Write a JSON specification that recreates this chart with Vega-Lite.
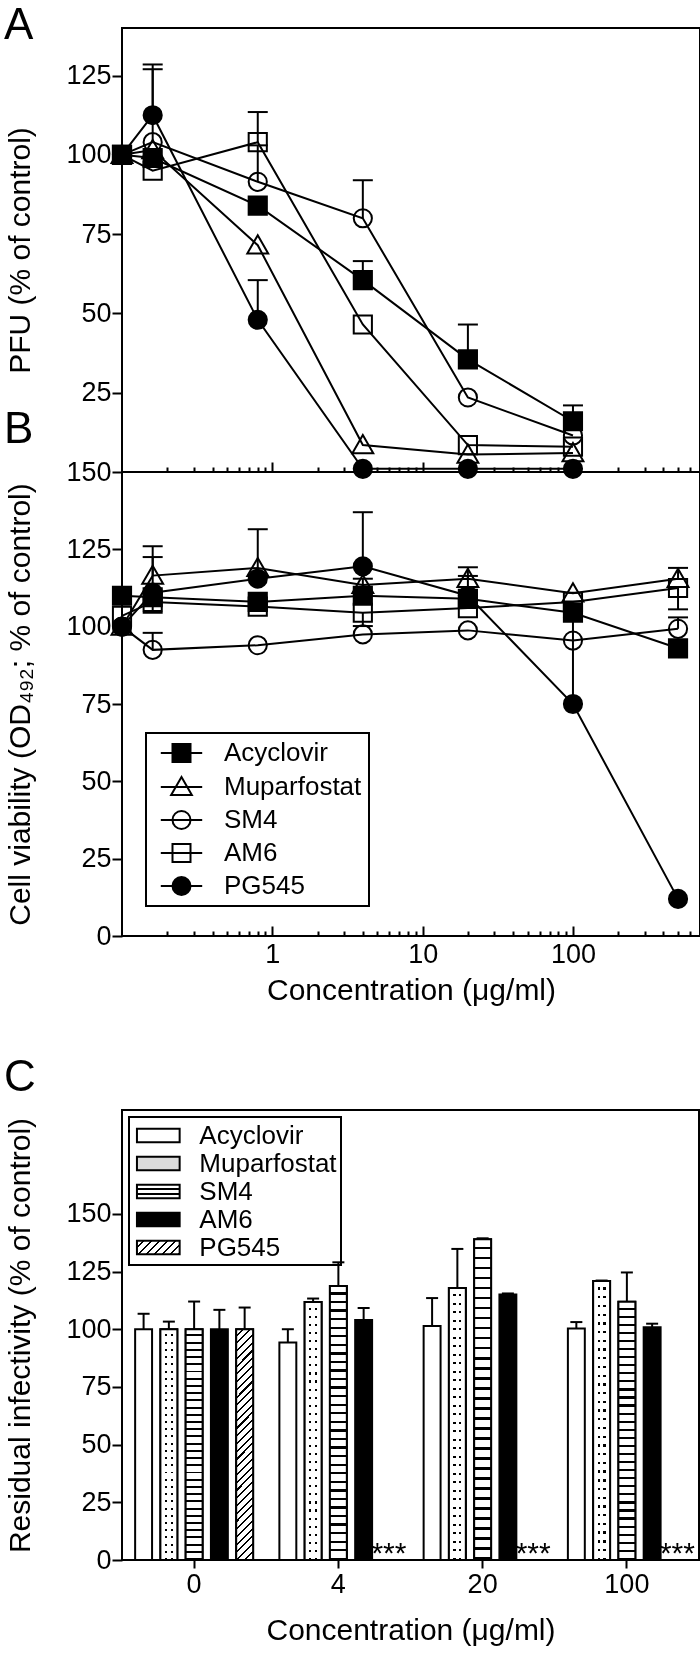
{
  "$schema": "https://vega.github.io/schema/vega-lite/v6.json",
  "background": "white",
  "padding": {"left": 3, "top": 3, "right": 0, "bottom": 5},
  "bounds": "flush",
  "spacing": 0,
  "config": {
    "font": "Liberation Sans",
    "view": {"stroke": "black", "strokeWidth": 2},
    "axis": {"labelFont": "Liberation Sans", "labelFontSize": 27, "labelColor": "black", "titleFont": "Liberation Sans", "titleFontSize": 30, "titleFontWeight": "normal", "titleColor": "black", "tickColor": "black", "tickWidth": 2, "domain": false, "grid": false, "labelOverlap": false, "labelFlush": false},
    "legend": {"labelFont": "Liberation Sans", "labelFontSize": 26, "labelColor": "black", "strokeColor": "black", "strokeWidth": 2, "labelLimit": 0},
    "title": {"font": "Liberation Sans", "fontSize": 44, "fontWeight": "normal", "color": "black", "anchor": "start", "frame": "group"}
  },
  "resolve": {"scale": {"fill": "independent", "shape": "independent", "stroke": "independent"}},
  "datasets": {
    "pfu": [
      {"drug":"Acyclovir","conc":0.1,"pfu":100,"err":null},
      {"drug":"Acyclovir","conc":0.16,"pfu":99,"err":null},
      {"drug":"Acyclovir","conc":0.8,"pfu":84,"err":null},
      {"drug":"Acyclovir","conc":4,"pfu":60.5,"err":66.5},
      {"drug":"Acyclovir","conc":20,"pfu":35.5,"err":46.5},
      {"drug":"Acyclovir","conc":100,"pfu":16,"err":21},
      {"drug":"Muparfostat","conc":0.1,"pfu":100,"err":null},
      {"drug":"Muparfostat","conc":0.16,"pfu":101.5,"err":null},
      {"drug":"Muparfostat","conc":0.8,"pfu":71.5,"err":null},
      {"drug":"Muparfostat","conc":4,"pfu":8.5,"err":null},
      {"drug":"Muparfostat","conc":20,"pfu":5.5,"err":null},
      {"drug":"Muparfostat","conc":100,"pfu":6,"err":null},
      {"drug":"SM4","conc":0.1,"pfu":100,"err":null},
      {"drug":"SM4","conc":0.16,"pfu":104,"err":127},
      {"drug":"SM4","conc":0.8,"pfu":91.5,"err":103},
      {"drug":"SM4","conc":4,"pfu":80,"err":92},
      {"drug":"SM4","conc":20,"pfu":23.5,"err":null},
      {"drug":"SM4","conc":100,"pfu":11.5,"err":null},
      {"drug":"AM6","conc":0.1,"pfu":100,"err":null},
      {"drug":"AM6","conc":0.16,"pfu":95,"err":null},
      {"drug":"AM6","conc":0.8,"pfu":104,"err":113.5},
      {"drug":"AM6","conc":4,"pfu":46.5,"err":null},
      {"drug":"AM6","conc":20,"pfu":8.5,"err":null},
      {"drug":"AM6","conc":100,"pfu":8,"err":null},
      {"drug":"PG545","conc":0.1,"pfu":100,"err":null},
      {"drug":"PG545","conc":0.16,"pfu":112.5,"err":128.5},
      {"drug":"PG545","conc":0.8,"pfu":48,"err":60.5},
      {"drug":"PG545","conc":4,"pfu":1,"err":null},
      {"drug":"PG545","conc":20,"pfu":1,"err":null},
      {"drug":"PG545","conc":100,"pfu":1,"err":null}
    ],
    "viab": [
      {"drug":"Acyclovir","conc":0.1,"via":110,"err":null},
      {"drug":"Acyclovir","conc":0.16,"via":109.5,"err":null},
      {"drug":"Acyclovir","conc":0.8,"via":108,"err":null},
      {"drug":"Acyclovir","conc":4,"via":110,"err":115.5},
      {"drug":"Acyclovir","conc":20,"via":109,"err":116.4},
      {"drug":"Acyclovir","conc":100,"via":104.5,"err":null},
      {"drug":"Acyclovir","conc":500,"via":93,"err":null},
      {"drug":"Muparfostat","conc":0.1,"via":100,"err":null},
      {"drug":"Muparfostat","conc":0.16,"via":116.5,"err":126},
      {"drug":"Muparfostat","conc":0.8,"via":119,"err":null},
      {"drug":"Muparfostat","conc":4,"via":113.5,"err":null},
      {"drug":"Muparfostat","conc":20,"via":115.5,"err":119.2},
      {"drug":"Muparfostat","conc":100,"via":110.8,"err":null},
      {"drug":"Muparfostat","conc":500,"via":115.5,"err":119},
      {"drug":"SM4","conc":0.1,"via":100,"err":null},
      {"drug":"SM4","conc":0.16,"via":92.5,"err":98},
      {"drug":"SM4","conc":0.8,"via":94,"err":null},
      {"drug":"SM4","conc":4,"via":97.5,"err":null},
      {"drug":"SM4","conc":20,"via":98.8,"err":null},
      {"drug":"SM4","conc":100,"via":95.5,"err":null},
      {"drug":"SM4","conc":500,"via":99.3,"err":103},
      {"drug":"AM6","conc":0.1,"via":103.5,"err":null},
      {"drug":"AM6","conc":0.16,"via":108,"err":104.5},
      {"drug":"AM6","conc":0.8,"via":106.5,"err":null},
      {"drug":"AM6","conc":4,"via":104.5,"err":100.2},
      {"drug":"AM6","conc":20,"via":106,"err":null},
      {"drug":"AM6","conc":100,"via":108,"err":null},
      {"drug":"AM6","conc":500,"via":112.5,"err":105.6},
      {"drug":"PG545","conc":0.1,"via":100,"err":null},
      {"drug":"PG545","conc":0.16,"via":111,"err":122.5},
      {"drug":"PG545","conc":0.8,"via":115.5,"err":131.5},
      {"drug":"PG545","conc":4,"via":119.5,"err":137},
      {"drug":"PG545","conc":20,"via":110,"err":null},
      {"drug":"PG545","conc":100,"via":75,"err":103},
      {"drug":"PG545","conc":500,"via":12,"err":null}
    ],
    "resid": [
      {"conc":"0","drug":"Acyclovir","value":100,"err":106.7,"sig":null},
      {"conc":"0","drug":"Muparfostat","value":100,"err":103.3,"sig":null},
      {"conc":"0","drug":"SM4","value":100,"err":112,"sig":null},
      {"conc":"0","drug":"AM6","value":100,"err":108.4,"sig":null},
      {"conc":"0","drug":"PG545","value":100,"err":109.4,"sig":null},
      {"conc":"4","drug":"Acyclovir","value":94.3,"err":100,"sig":null},
      {"conc":"4","drug":"Muparfostat","value":111.8,"err":113.3,"sig":null},
      {"conc":"4","drug":"SM4","value":118.7,"err":129,"sig":null},
      {"conc":"4","drug":"AM6","value":104,"err":109.2,"sig":null},
      {"conc":"4","drug":"PG545","value":0,"err":null,"sig":"***"},
      {"conc":"20","drug":"Acyclovir","value":101.4,"err":113.5,"sig":null},
      {"conc":"20","drug":"Muparfostat","value":117.9,"err":134.8,"sig":null},
      {"conc":"20","drug":"SM4","value":139,"err":139.4,"sig":null},
      {"conc":"20","drug":"AM6","value":115.1,"err":115.5,"sig":null},
      {"conc":"20","drug":"PG545","value":0,"err":null,"sig":"***"},
      {"conc":"100","drug":"Acyclovir","value":100.3,"err":103.1,"sig":null},
      {"conc":"100","drug":"Muparfostat","value":120.9,"err":121.1,"sig":null},
      {"conc":"100","drug":"SM4","value":111.9,"err":124.6,"sig":null},
      {"conc":"100","drug":"AM6","value":100.9,"err":102.4,"sig":null},
      {"conc":"100","drug":"PG545","value":0,"err":null,"sig":"***"}
    ]
  },
  "vconcat": [
    {
      "width": 578,
      "height": 444,
      "title": {"text": "A", "dx": -118, "dy": 24},
      "data": {"name": "pfu"},
      "resolve": {"axis": {"x": "independent"}},
      "layer": [
        {
          "mark": {"type": "line", "stroke": "black", "strokeWidth": 2},
          "encoding": {
            "x": {"field": "conc", "type": "quantitative", "scale": {"type": "log", "domain": [0.1, 700], "nice": false}, "axis": {"orient": "bottom", "values": [1, 10, 100], "tickSize": -10, "labels": false, "title": null}},
            "y": {"field": "pfu", "type": "quantitative", "scale": {"domain": [0, 140], "nice": false}, "axis": {"values": [25, 50, 75, 100, 125], "tickSize": 10, "labelPadding": 1, "title": "PFU (% of control)", "titlePadding": 30}},
            "detail": {"field": "drug"}
          }
        },
        {
          "transform": [{"filter": "isValid(datum.err)"}],
          "mark": {"type": "rule", "stroke": "black", "strokeWidth": 2},
          "encoding": {
            "x": {"field": "conc", "type": "quantitative", "axis": {"orient": "bottom", "values": [0.2,0.3,0.4,0.5,0.6,0.7,0.8,0.9,2,3,4,5,6,7,8,9,20,30,40,50,60,70,80,90,200,300,400,500,600,700], "tickSize": -5, "labels": false, "title": null}},
            "y": {"field": "pfu", "type": "quantitative", "title": "PFU (% of control)"},
            "y2": {"field": "err"}
          }
        },
        {
          "transform": [{"filter": "isValid(datum.err)"}],
          "mark": {"type": "point", "shape": "M-1,0H1", "size": 400, "filled": false, "stroke": "black", "strokeWidth": 2, "opacity": 1},
          "encoding": {
            "x": {"field": "conc", "type": "quantitative", "axis": null},
            "y": {"field": "err", "type": "quantitative", "title": "PFU (% of control)"}
          }
        },
        {
          "mark": {"type": "point", "size": 330, "filled": true, "stroke": "black", "strokeWidth": 2, "opacity": 1},
          "encoding": {
            "x": {"field": "conc", "type": "quantitative", "axis": null},
            "y": {"field": "pfu", "type": "quantitative", "title": "PFU (% of control)"},
            "shape": {"field": "drug", "type": "nominal", "scale": {"domain": ["Acyclovir","Muparfostat","SM4","AM6","PG545"], "range": ["M-1,-1H1V1H-1Z", "M0,-1.1L1.15,0.9H-1.15Z", "M1,0A1,1,0,1,1,-1,0A1,1,0,1,1,1,0Z", "M-1,-1H1V1H-1Z", "M1,0A1,1,0,1,1,-1,0A1,1,0,1,1,1,0Z"]}, "legend": null},
            "fill": {"field": "drug", "type": "nominal", "scale": {"domain": ["Acyclovir","Muparfostat","SM4","AM6","PG545"], "range": ["black", "transparent", "transparent", "transparent", "black"]}, "legend": null}
          }
        }
      ]
    },
    {
      "width": 578,
      "height": 464,
      "title": {"text": "B", "dx": -118, "dy": -2},
      "data": {"name": "viab"},
      "resolve": {"axis": {"x": "independent"}, "scale": {"shape": "independent", "fill": "independent", "stroke": "independent"}},
      "layer": [
        {
          "mark": {"type": "line", "stroke": "black", "strokeWidth": 2},
          "encoding": {
            "x": {"field": "conc", "type": "quantitative", "scale": {"type": "log", "domain": [0.1, 700], "nice": false}, "axis": {"orient": "bottom", "values": [1, 10, 100], "format": "d", "tickSize": -10, "labelPadding": 15, "title": "Concentration (μg/ml)", "titlePadding": 8}},
            "y": {"field": "via", "type": "quantitative", "scale": {"domain": [0, 150], "nice": false}, "axis": {"values": [0, 25, 50, 75, 100, 125, 150], "tickSize": 10, "labelPadding": 1, "title": "Cell viability (OD₄₉₂; % of control)", "titlePadding": 30}},
            "detail": {"field": "drug"}
          }
        },
        {
          "transform": [{"filter": "isValid(datum.err)"}],
          "mark": {"type": "rule", "stroke": "black", "strokeWidth": 2},
          "encoding": {
            "x": {"field": "conc", "type": "quantitative", "axis": {"orient": "bottom", "values": [0.2,0.3,0.4,0.5,0.6,0.7,0.8,0.9,2,3,4,5,6,7,8,9,20,30,40,50,60,70,80,90,200,300,400,500,600,700], "tickSize": -5, "labels": false, "title": null}},
            "y": {"field": "via", "type": "quantitative", "title": "Cell viability (OD₄₉₂; % of control)"},
            "y2": {"field": "err"}
          }
        },
        {
          "transform": [{"filter": "isValid(datum.err)"}],
          "mark": {"type": "point", "shape": "M-1,0H1", "size": 400, "filled": false, "stroke": "black", "strokeWidth": 2, "opacity": 1},
          "encoding": {
            "x": {"field": "conc", "type": "quantitative", "axis": null},
            "y": {"field": "err", "type": "quantitative", "title": "Cell viability (OD₄₉₂; % of control)"}
          }
        },
        {
          "mark": {"type": "point", "size": 330, "filled": true, "stroke": "black", "strokeWidth": 2, "opacity": 1},
          "encoding": {
            "x": {"field": "conc", "type": "quantitative", "axis": null},
            "y": {"field": "via", "type": "quantitative", "title": "Cell viability (OD₄₉₂; % of control)"},
            "shape": {"field": "drug", "type": "nominal", "scale": {"domain": ["Acyclovir","Muparfostat","SM4","AM6","PG545"], "range": ["M-1,-1H1V1H-1Z", "M0,-1.1L1.15,0.9H-1.15Z", "M1,0A1,1,0,1,1,-1,0A1,1,0,1,1,1,0Z", "M-1,-1H1V1H-1Z", "M1,0A1,1,0,1,1,-1,0A1,1,0,1,1,1,0Z"]}, "legend": null},
            "fill": {"field": "drug", "type": "nominal", "scale": {"domain": ["Acyclovir","Muparfostat","SM4","AM6","PG545"], "range": ["black", "transparent", "transparent", "transparent", "black"]}, "legend": null}
          }
        },
        {
          "transform": [{"filter": "false"}],
          "mark": {"type": "point", "size": 324, "filled": true, "strokeWidth": 2, "opacity": 1},
          "encoding": {
            "shape": {"field": "drug", "type": "nominal", "scale": {"domain": ["Acyclovir","Muparfostat","SM4","AM6","PG545"], "range": ["M-1,-1H1V1H-1Z M-2.3,0H2.3", "M0,-1.1L1.15,0.9H-1.15Z M-2.3,0H2.3", "M1,0A1,1,0,1,1,-1,0A1,1,0,1,1,1,0Z M-2.3,0H2.3", "M-1,-1H1V1H-1Z M-2.3,0H2.3", "M1,0A1,1,0,1,1,-1,0A1,1,0,1,1,1,0Z M-2.3,0H2.3"]},
              "legend": {"title": null, "orient": "none", "legendX": 24, "legendY": 261, "padding": 7, "symbolSize": 324, "symbolStrokeWidth": 2, "symbolOffset": 15.5, "labelOffset": 29.5, "rowPadding": 7, "labelFontSize": 26, "strokeColor": "black"}},
            "fill": {"field": "drug", "type": "nominal", "scale": {"domain": ["Acyclovir","Muparfostat","SM4","AM6","PG545"], "range": ["black", "transparent", "transparent", "transparent", "black"]},
              "legend": {"title": null, "orient": "none", "legendX": 24, "legendY": 261, "padding": 7, "symbolSize": 324, "symbolStrokeWidth": 2, "symbolOffset": 15.5, "labelOffset": 29.5, "rowPadding": 7, "labelFontSize": 26, "strokeColor": "black"}},
            "stroke": {"field": "drug", "type": "nominal", "scale": {"domain": ["Acyclovir","Muparfostat","SM4","AM6","PG545"], "range": ["black", "black", "black", "black", "black"]},
              "legend": {"title": null, "orient": "none", "legendX": 24, "legendY": 261, "padding": 7, "symbolSize": 324, "symbolStrokeWidth": 2, "symbolOffset": 15.5, "labelOffset": 29.5, "rowPadding": 7, "labelFontSize": 26, "strokeColor": "black"}}
          }
        }
      ]
    },
    {
      "width": 578,
      "height": 174,
      "view": {"stroke": null},
      "data": {"values": [{"a": 1}]},
      "mark": {"type": "text", "text": ""}
    },
    {
      "width": 577,
      "height": 450,
      "title": {"text": "C", "dx": -118, "dy": -6},
      "data": {"name": "resid"},
      "resolve": {"scale": {"fill": "independent"}},
      "layer": [
        {
          "mark": {"type": "bar", "stroke": "black", "strokeWidth": 2},
          "encoding": {
            "x": {"field": "conc", "type": "nominal", "sort": ["0", "4", "20", "100"], "scale": {"paddingInner": 0, "paddingOuter": 0}, "axis": {"labelAngle": 0, "tickSize": 8, "bandPosition": 0.5, "labelPadding": 3, "title": "Concentration (μg/ml)", "titlePadding": 18}},
            "xOffset": {"field": "drug", "type": "nominal", "sort": ["Acyclovir","Muparfostat","SM4","AM6","PG545"], "scale": {"paddingInner": 0.33, "paddingOuter": 0.52}},
            "y": {"field": "value", "type": "quantitative", "scale": {"domain": [0, 195], "nice": false}, "axis": {"values": [0, 25, 50, 75, 100, 125, 150], "tickSize": 10, "labelPadding": 1, "title": "Residual infectivity (% of control)", "titlePadding": 30}},
            "fill": {"field": "drug", "type": "nominal", "legend": null, "scale": {"domain": ["Acyclovir","Muparfostat","SM4","AM6","PG545"], "range": ["white", "white", "white", "black", "white"]}}
          }
        },
        {
          "transform": [{"filter": "datum.drug === 'SM4'"}],
          "mark": {"type": "bar", "stroke": "black", "strokeWidth": 2, "fill": {"gradient": "linear", "x1": 0.5, "y1": 0, "x2": 0.5, "y2": 1, "stops": [
                {"offset":0,"color":"white"},{"offset":0.0228,"color":"white"},{"offset":0.0228,"color":"black"},{"offset":0.03125,"color":"black"},
                {"offset":0.03125,"color":"white"},{"offset":0.0541,"color":"white"},{"offset":0.0541,"color":"black"},{"offset":0.0625,"color":"black"},
                {"offset":0.0625,"color":"white"},{"offset":0.0853,"color":"white"},{"offset":0.0853,"color":"black"},{"offset":0.09375,"color":"black"},
                {"offset":0.09375,"color":"white"},{"offset":0.1166,"color":"white"},{"offset":0.1166,"color":"black"},{"offset":0.125,"color":"black"},
                {"offset":0.125,"color":"white"},{"offset":0.1478,"color":"white"},{"offset":0.1478,"color":"black"},{"offset":0.15625,"color":"black"},
                {"offset":0.15625,"color":"white"},{"offset":0.1791,"color":"white"},{"offset":0.1791,"color":"black"},{"offset":0.1875,"color":"black"},
                {"offset":0.1875,"color":"white"},{"offset":0.2103,"color":"white"},{"offset":0.2103,"color":"black"},{"offset":0.21875,"color":"black"},
                {"offset":0.21875,"color":"white"},{"offset":0.2416,"color":"white"},{"offset":0.2416,"color":"black"},{"offset":0.25,"color":"black"},
                {"offset":0.25,"color":"white"},{"offset":0.2728,"color":"white"},{"offset":0.2728,"color":"black"},{"offset":0.28125,"color":"black"},
                {"offset":0.28125,"color":"white"},{"offset":0.3041,"color":"white"},{"offset":0.3041,"color":"black"},{"offset":0.3125,"color":"black"},
                {"offset":0.3125,"color":"white"},{"offset":0.3353,"color":"white"},{"offset":0.3353,"color":"black"},{"offset":0.34375,"color":"black"},
                {"offset":0.34375,"color":"white"},{"offset":0.3666,"color":"white"},{"offset":0.3666,"color":"black"},{"offset":0.375,"color":"black"},
                {"offset":0.375,"color":"white"},{"offset":0.3978,"color":"white"},{"offset":0.3978,"color":"black"},{"offset":0.40625,"color":"black"},
                {"offset":0.40625,"color":"white"},{"offset":0.4291,"color":"white"},{"offset":0.4291,"color":"black"},{"offset":0.4375,"color":"black"},
                {"offset":0.4375,"color":"white"},{"offset":0.4603,"color":"white"},{"offset":0.4603,"color":"black"},{"offset":0.46875,"color":"black"},
                {"offset":0.46875,"color":"white"},{"offset":0.4916,"color":"white"},{"offset":0.4916,"color":"black"},{"offset":0.5,"color":"black"},
                {"offset":0.5,"color":"white"},{"offset":0.5228,"color":"white"},{"offset":0.5228,"color":"black"},{"offset":0.53125,"color":"black"},
                {"offset":0.53125,"color":"white"},{"offset":0.5541,"color":"white"},{"offset":0.5541,"color":"black"},{"offset":0.5625,"color":"black"},
                {"offset":0.5625,"color":"white"},{"offset":0.5853,"color":"white"},{"offset":0.5853,"color":"black"},{"offset":0.59375,"color":"black"},
                {"offset":0.59375,"color":"white"},{"offset":0.6166,"color":"white"},{"offset":0.6166,"color":"black"},{"offset":0.625,"color":"black"},
                {"offset":0.625,"color":"white"},{"offset":0.6478,"color":"white"},{"offset":0.6478,"color":"black"},{"offset":0.65625,"color":"black"},
                {"offset":0.65625,"color":"white"},{"offset":0.6791,"color":"white"},{"offset":0.6791,"color":"black"},{"offset":0.6875,"color":"black"},
                {"offset":0.6875,"color":"white"},{"offset":0.7103,"color":"white"},{"offset":0.7103,"color":"black"},{"offset":0.71875,"color":"black"},
                {"offset":0.71875,"color":"white"},{"offset":0.7416,"color":"white"},{"offset":0.7416,"color":"black"},{"offset":0.75,"color":"black"},
                {"offset":0.75,"color":"white"},{"offset":0.7728,"color":"white"},{"offset":0.7728,"color":"black"},{"offset":0.78125,"color":"black"},
                {"offset":0.78125,"color":"white"},{"offset":0.8041,"color":"white"},{"offset":0.8041,"color":"black"},{"offset":0.8125,"color":"black"},
                {"offset":0.8125,"color":"white"},{"offset":0.8353,"color":"white"},{"offset":0.8353,"color":"black"},{"offset":0.84375,"color":"black"},
                {"offset":0.84375,"color":"white"},{"offset":0.8666,"color":"white"},{"offset":0.8666,"color":"black"},{"offset":0.875,"color":"black"},
                {"offset":0.875,"color":"white"},{"offset":0.8978,"color":"white"},{"offset":0.8978,"color":"black"},{"offset":0.90625,"color":"black"},
                {"offset":0.90625,"color":"white"},{"offset":0.9291,"color":"white"},{"offset":0.9291,"color":"black"},{"offset":0.9375,"color":"black"},
                {"offset":0.9375,"color":"white"},{"offset":0.9603,"color":"white"},{"offset":0.9603,"color":"black"},{"offset":0.96875,"color":"black"},
                {"offset":0.96875,"color":"white"},{"offset":0.9916,"color":"white"},{"offset":0.9916,"color":"black"},{"offset":1,"color":"black"}
              ]}},
          "encoding": {
            "x": {"field": "conc", "type": "nominal", "sort": ["0", "4", "20", "100"]},
            "xOffset": {"field": "drug", "type": "nominal", "sort": ["Acyclovir","Muparfostat","SM4","AM6","PG545"]},
            "y": {"field": "value", "type": "quantitative", "title": "Residual infectivity (% of control)"}
          }
        },
        {
          "transform": [{"filter": "datum.drug === 'PG545' && datum.value > 0"}],
          "mark": {"type": "bar", "stroke": "black", "strokeWidth": 2, "fill": {"gradient": "linear", "x1": 0, "y1": 0, "x2": 0.0789, "y2": 1.068, "stops": [
                {"offset":0,"color":"white"},{"offset":0.0228,"color":"white"},{"offset":0.0228,"color":"black"},{"offset":0.03125,"color":"black"},
                {"offset":0.03125,"color":"white"},{"offset":0.0541,"color":"white"},{"offset":0.0541,"color":"black"},{"offset":0.0625,"color":"black"},
                {"offset":0.0625,"color":"white"},{"offset":0.0853,"color":"white"},{"offset":0.0853,"color":"black"},{"offset":0.09375,"color":"black"},
                {"offset":0.09375,"color":"white"},{"offset":0.1166,"color":"white"},{"offset":0.1166,"color":"black"},{"offset":0.125,"color":"black"},
                {"offset":0.125,"color":"white"},{"offset":0.1478,"color":"white"},{"offset":0.1478,"color":"black"},{"offset":0.15625,"color":"black"},
                {"offset":0.15625,"color":"white"},{"offset":0.1791,"color":"white"},{"offset":0.1791,"color":"black"},{"offset":0.1875,"color":"black"},
                {"offset":0.1875,"color":"white"},{"offset":0.2103,"color":"white"},{"offset":0.2103,"color":"black"},{"offset":0.21875,"color":"black"},
                {"offset":0.21875,"color":"white"},{"offset":0.2416,"color":"white"},{"offset":0.2416,"color":"black"},{"offset":0.25,"color":"black"},
                {"offset":0.25,"color":"white"},{"offset":0.2728,"color":"white"},{"offset":0.2728,"color":"black"},{"offset":0.28125,"color":"black"},
                {"offset":0.28125,"color":"white"},{"offset":0.3041,"color":"white"},{"offset":0.3041,"color":"black"},{"offset":0.3125,"color":"black"},
                {"offset":0.3125,"color":"white"},{"offset":0.3353,"color":"white"},{"offset":0.3353,"color":"black"},{"offset":0.34375,"color":"black"},
                {"offset":0.34375,"color":"white"},{"offset":0.3666,"color":"white"},{"offset":0.3666,"color":"black"},{"offset":0.375,"color":"black"},
                {"offset":0.375,"color":"white"},{"offset":0.3978,"color":"white"},{"offset":0.3978,"color":"black"},{"offset":0.40625,"color":"black"},
                {"offset":0.40625,"color":"white"},{"offset":0.4291,"color":"white"},{"offset":0.4291,"color":"black"},{"offset":0.4375,"color":"black"},
                {"offset":0.4375,"color":"white"},{"offset":0.4603,"color":"white"},{"offset":0.4603,"color":"black"},{"offset":0.46875,"color":"black"},
                {"offset":0.46875,"color":"white"},{"offset":0.4916,"color":"white"},{"offset":0.4916,"color":"black"},{"offset":0.5,"color":"black"},
                {"offset":0.5,"color":"white"},{"offset":0.5228,"color":"white"},{"offset":0.5228,"color":"black"},{"offset":0.53125,"color":"black"},
                {"offset":0.53125,"color":"white"},{"offset":0.5541,"color":"white"},{"offset":0.5541,"color":"black"},{"offset":0.5625,"color":"black"},
                {"offset":0.5625,"color":"white"},{"offset":0.5853,"color":"white"},{"offset":0.5853,"color":"black"},{"offset":0.59375,"color":"black"},
                {"offset":0.59375,"color":"white"},{"offset":0.6166,"color":"white"},{"offset":0.6166,"color":"black"},{"offset":0.625,"color":"black"},
                {"offset":0.625,"color":"white"},{"offset":0.6478,"color":"white"},{"offset":0.6478,"color":"black"},{"offset":0.65625,"color":"black"},
                {"offset":0.65625,"color":"white"},{"offset":0.6791,"color":"white"},{"offset":0.6791,"color":"black"},{"offset":0.6875,"color":"black"},
                {"offset":0.6875,"color":"white"},{"offset":0.7103,"color":"white"},{"offset":0.7103,"color":"black"},{"offset":0.71875,"color":"black"},
                {"offset":0.71875,"color":"white"},{"offset":0.7416,"color":"white"},{"offset":0.7416,"color":"black"},{"offset":0.75,"color":"black"},
                {"offset":0.75,"color":"white"},{"offset":0.7728,"color":"white"},{"offset":0.7728,"color":"black"},{"offset":0.78125,"color":"black"},
                {"offset":0.78125,"color":"white"},{"offset":0.8041,"color":"white"},{"offset":0.8041,"color":"black"},{"offset":0.8125,"color":"black"},
                {"offset":0.8125,"color":"white"},{"offset":0.8353,"color":"white"},{"offset":0.8353,"color":"black"},{"offset":0.84375,"color":"black"},
                {"offset":0.84375,"color":"white"},{"offset":0.8666,"color":"white"},{"offset":0.8666,"color":"black"},{"offset":0.875,"color":"black"},
                {"offset":0.875,"color":"white"},{"offset":0.8978,"color":"white"},{"offset":0.8978,"color":"black"},{"offset":0.90625,"color":"black"},
                {"offset":0.90625,"color":"white"},{"offset":0.9291,"color":"white"},{"offset":0.9291,"color":"black"},{"offset":0.9375,"color":"black"},
                {"offset":0.9375,"color":"white"},{"offset":0.9603,"color":"white"},{"offset":0.9603,"color":"black"},{"offset":0.96875,"color":"black"},
                {"offset":0.96875,"color":"white"},{"offset":0.9916,"color":"white"},{"offset":0.9916,"color":"black"},{"offset":1,"color":"black"}
              ]}},
          "encoding": {
            "x": {"field": "conc", "type": "nominal", "sort": ["0", "4", "20", "100"]},
            "xOffset": {"field": "drug", "type": "nominal", "sort": ["Acyclovir","Muparfostat","SM4","AM6","PG545"]},
            "y": {"field": "value", "type": "quantitative", "title": "Residual infectivity (% of control)"}
          }
        },
        {
          "transform": [{"filter": "datum.drug === 'Muparfostat'"}],
          "mark": {"type": "bar", "strokeWidth": 0, "fill": {"gradient": "linear", "x1": 0, "y1": 0.5, "x2": 1, "y2": 0.5, "stops": [
                {"offset":0,"color":"white"},{"offset":0.27,"color":"white"},{"offset":0.27,"color":"black"},{"offset":0.39,"color":"black"},
                {"offset":0.39,"color":"white"},{"offset":0.61,"color":"white"},{"offset":0.61,"color":"black"},{"offset":0.73,"color":"black"},
                {"offset":0.73,"color":"white"},{"offset":1,"color":"white"}
              ]}},
          "encoding": {
            "x": {"field": "conc", "type": "nominal", "sort": ["0", "4", "20", "100"]},
            "xOffset": {"field": "drug", "type": "nominal", "sort": ["Acyclovir","Muparfostat","SM4","AM6","PG545"]},
            "y": {"field": "value", "type": "quantitative", "title": "Residual infectivity (% of control)"}
          }
        },
        {
          "transform": [{"filter": "datum.drug === 'Muparfostat'"}],
          "mark": {"type": "bar", "strokeWidth": 0, "blend": "lighten", "fill": {"gradient": "linear", "x1": 0.5, "y1": 0, "x2": 0.5, "y2": 1, "stops": [
                {"offset":0,"color":"white"},{"offset":0.0228,"color":"white"},{"offset":0.0228,"color":"black"},{"offset":0.03125,"color":"black"},
                {"offset":0.03125,"color":"white"},{"offset":0.0541,"color":"white"},{"offset":0.0541,"color":"black"},{"offset":0.0625,"color":"black"},
                {"offset":0.0625,"color":"white"},{"offset":0.0853,"color":"white"},{"offset":0.0853,"color":"black"},{"offset":0.09375,"color":"black"},
                {"offset":0.09375,"color":"white"},{"offset":0.1166,"color":"white"},{"offset":0.1166,"color":"black"},{"offset":0.125,"color":"black"},
                {"offset":0.125,"color":"white"},{"offset":0.1478,"color":"white"},{"offset":0.1478,"color":"black"},{"offset":0.15625,"color":"black"},
                {"offset":0.15625,"color":"white"},{"offset":0.1791,"color":"white"},{"offset":0.1791,"color":"black"},{"offset":0.1875,"color":"black"},
                {"offset":0.1875,"color":"white"},{"offset":0.2103,"color":"white"},{"offset":0.2103,"color":"black"},{"offset":0.21875,"color":"black"},
                {"offset":0.21875,"color":"white"},{"offset":0.2416,"color":"white"},{"offset":0.2416,"color":"black"},{"offset":0.25,"color":"black"},
                {"offset":0.25,"color":"white"},{"offset":0.2728,"color":"white"},{"offset":0.2728,"color":"black"},{"offset":0.28125,"color":"black"},
                {"offset":0.28125,"color":"white"},{"offset":0.3041,"color":"white"},{"offset":0.3041,"color":"black"},{"offset":0.3125,"color":"black"},
                {"offset":0.3125,"color":"white"},{"offset":0.3353,"color":"white"},{"offset":0.3353,"color":"black"},{"offset":0.34375,"color":"black"},
                {"offset":0.34375,"color":"white"},{"offset":0.3666,"color":"white"},{"offset":0.3666,"color":"black"},{"offset":0.375,"color":"black"},
                {"offset":0.375,"color":"white"},{"offset":0.3978,"color":"white"},{"offset":0.3978,"color":"black"},{"offset":0.40625,"color":"black"},
                {"offset":0.40625,"color":"white"},{"offset":0.4291,"color":"white"},{"offset":0.4291,"color":"black"},{"offset":0.4375,"color":"black"},
                {"offset":0.4375,"color":"white"},{"offset":0.4603,"color":"white"},{"offset":0.4603,"color":"black"},{"offset":0.46875,"color":"black"},
                {"offset":0.46875,"color":"white"},{"offset":0.4916,"color":"white"},{"offset":0.4916,"color":"black"},{"offset":0.5,"color":"black"},
                {"offset":0.5,"color":"white"},{"offset":0.5228,"color":"white"},{"offset":0.5228,"color":"black"},{"offset":0.53125,"color":"black"},
                {"offset":0.53125,"color":"white"},{"offset":0.5541,"color":"white"},{"offset":0.5541,"color":"black"},{"offset":0.5625,"color":"black"},
                {"offset":0.5625,"color":"white"},{"offset":0.5853,"color":"white"},{"offset":0.5853,"color":"black"},{"offset":0.59375,"color":"black"},
                {"offset":0.59375,"color":"white"},{"offset":0.6166,"color":"white"},{"offset":0.6166,"color":"black"},{"offset":0.625,"color":"black"},
                {"offset":0.625,"color":"white"},{"offset":0.6478,"color":"white"},{"offset":0.6478,"color":"black"},{"offset":0.65625,"color":"black"},
                {"offset":0.65625,"color":"white"},{"offset":0.6791,"color":"white"},{"offset":0.6791,"color":"black"},{"offset":0.6875,"color":"black"},
                {"offset":0.6875,"color":"white"},{"offset":0.7103,"color":"white"},{"offset":0.7103,"color":"black"},{"offset":0.71875,"color":"black"},
                {"offset":0.71875,"color":"white"},{"offset":0.7416,"color":"white"},{"offset":0.7416,"color":"black"},{"offset":0.75,"color":"black"},
                {"offset":0.75,"color":"white"},{"offset":0.7728,"color":"white"},{"offset":0.7728,"color":"black"},{"offset":0.78125,"color":"black"},
                {"offset":0.78125,"color":"white"},{"offset":0.8041,"color":"white"},{"offset":0.8041,"color":"black"},{"offset":0.8125,"color":"black"},
                {"offset":0.8125,"color":"white"},{"offset":0.8353,"color":"white"},{"offset":0.8353,"color":"black"},{"offset":0.84375,"color":"black"},
                {"offset":0.84375,"color":"white"},{"offset":0.8666,"color":"white"},{"offset":0.8666,"color":"black"},{"offset":0.875,"color":"black"},
                {"offset":0.875,"color":"white"},{"offset":0.8978,"color":"white"},{"offset":0.8978,"color":"black"},{"offset":0.90625,"color":"black"},
                {"offset":0.90625,"color":"white"},{"offset":0.9291,"color":"white"},{"offset":0.9291,"color":"black"},{"offset":0.9375,"color":"black"},
                {"offset":0.9375,"color":"white"},{"offset":0.9603,"color":"white"},{"offset":0.9603,"color":"black"},{"offset":0.96875,"color":"black"},
                {"offset":0.96875,"color":"white"},{"offset":0.9916,"color":"white"},{"offset":0.9916,"color":"black"},{"offset":1,"color":"black"}
              ]}},
          "encoding": {
            "x": {"field": "conc", "type": "nominal", "sort": ["0", "4", "20", "100"]},
            "xOffset": {"field": "drug", "type": "nominal", "sort": ["Acyclovir","Muparfostat","SM4","AM6","PG545"]},
            "y": {"field": "value", "type": "quantitative", "title": "Residual infectivity (% of control)"}
          }
        },
        {
          "transform": [{"filter": "datum.drug === 'Muparfostat'"}],
          "mark": {"type": "bar", "stroke": "black", "strokeWidth": 2, "fill": "transparent"},
          "encoding": {
            "x": {"field": "conc", "type": "nominal", "sort": ["0", "4", "20", "100"]},
            "xOffset": {"field": "drug", "type": "nominal", "sort": ["Acyclovir","Muparfostat","SM4","AM6","PG545"]},
            "y": {"field": "value", "type": "quantitative", "title": "Residual infectivity (% of control)"}
          }
        },
        {
          "transform": [{"filter": "isValid(datum.err)"}],
          "mark": {"type": "rule", "stroke": "black", "strokeWidth": 2},
          "encoding": {
            "x": {"field": "conc", "type": "nominal", "sort": ["0", "4", "20", "100"]},
            "xOffset": {"field": "drug", "type": "nominal", "sort": ["Acyclovir","Muparfostat","SM4","AM6","PG545"]},
            "y": {"field": "value", "type": "quantitative", "title": "Residual infectivity (% of control)"},
            "y2": {"field": "err"}
          }
        },
        {
          "transform": [{"filter": "isValid(datum.err)"}],
          "mark": {"type": "point", "shape": "M-1,0H1", "size": 144, "filled": false, "stroke": "black", "strokeWidth": 2, "opacity": 1},
          "encoding": {
            "x": {"field": "conc", "type": "nominal", "sort": ["0", "4", "20", "100"]},
            "xOffset": {"field": "drug", "type": "nominal", "sort": ["Acyclovir","Muparfostat","SM4","AM6","PG545"]},
            "y": {"field": "err", "type": "quantitative", "title": "Residual infectivity (% of control)"}
          }
        },
        {
          "transform": [{"filter": "datum.sig != null"}],
          "mark": {"type": "text", "font": "Liberation Sans", "fontSize": 30, "baseline": "alphabetic", "dy": 3, "color": "black"},
          "encoding": {
            "x": {"field": "conc", "type": "nominal", "sort": ["0", "4", "20", "100"]},
            "xOffset": {"field": "drug", "type": "nominal", "sort": ["Acyclovir","Muparfostat","SM4","AM6","PG545"]},
            "y": {"field": "value", "type": "quantitative", "title": "Residual infectivity (% of control)"},
            "text": {"field": "sig"}
          }
        },
        {
          "transform": [{"filter": "false"}],
          "mark": {"type": "point", "size": 712, "filled": true, "stroke": "black", "strokeWidth": 2, "opacity": 1},
          "encoding": {
            "fill": {"field": "drug", "type": "nominal", "scale": {"domain": ["Acyclovir","Muparfostat","SM4","AM6","PG545"], "range": [
                "white",
                "#dcdcdc",
                {"expr": "{gradient: 'linear', x1: 0.5, y1: 0, x2: 0.5, y2: 1, stops: [{offset: 0, color: 'white'}, {offset: 0.26, color: 'white'}, {offset: 0.26, color: 'black'}, {offset: 0.4, color: 'black'}, {offset: 0.4, color: 'white'}, {offset: 0.6, color: 'white'}, {offset: 0.6, color: 'black'}, {offset: 0.74, color: 'black'}, {offset: 0.74, color: 'white'}, {offset: 1, color: 'white'}]}"},
                "black",
                {"expr": "{gradient: 'linear', x1: 0, y1: 0, x2: 1.196, y2: 0.373, stops: [{offset: 0, color: 'white'}, {offset: 0.1, color: 'white'}, {offset: 0.1, color: 'black'}, {offset: 0.142857, color: 'black'}, {offset: 0.142857, color: 'white'}, {offset: 0.242857, color: 'white'}, {offset: 0.242857, color: 'black'}, {offset: 0.285714, color: 'black'}, {offset: 0.285714, color: 'white'}, {offset: 0.385714, color: 'white'}, {offset: 0.385714, color: 'black'}, {offset: 0.428571, color: 'black'}, {offset: 0.428571, color: 'white'}, {offset: 0.528571, color: 'white'}, {offset: 0.528571, color: 'black'}, {offset: 0.571429, color: 'black'}, {offset: 0.571429, color: 'white'}, {offset: 0.671429, color: 'white'}, {offset: 0.671429, color: 'black'}, {offset: 0.714286, color: 'black'}, {offset: 0.714286, color: 'white'}, {offset: 0.814286, color: 'white'}, {offset: 0.814286, color: 'black'}, {offset: 0.857143, color: 'black'}, {offset: 0.857143, color: 'white'}, {offset: 0.957143, color: 'white'}, {offset: 0.957143, color: 'black'}, {offset: 1, color: 'black'}]}"}
              ]},
              "legend": {"title": null, "orient": "top-left", "offset": 7, "padding": 4, "symbolType": "M-1.6,-0.5H1.6V0.5H-1.6Z", "symbolSize": 712, "symbolStrokeColor": "black", "symbolStrokeWidth": 2, "symbolOffset": 10.8, "labelOffset": 26.5, "rowPadding": 0, "labelFontSize": 26, "strokeColor": "black"}}
          }
        }
      ]
    }
  ]
}
